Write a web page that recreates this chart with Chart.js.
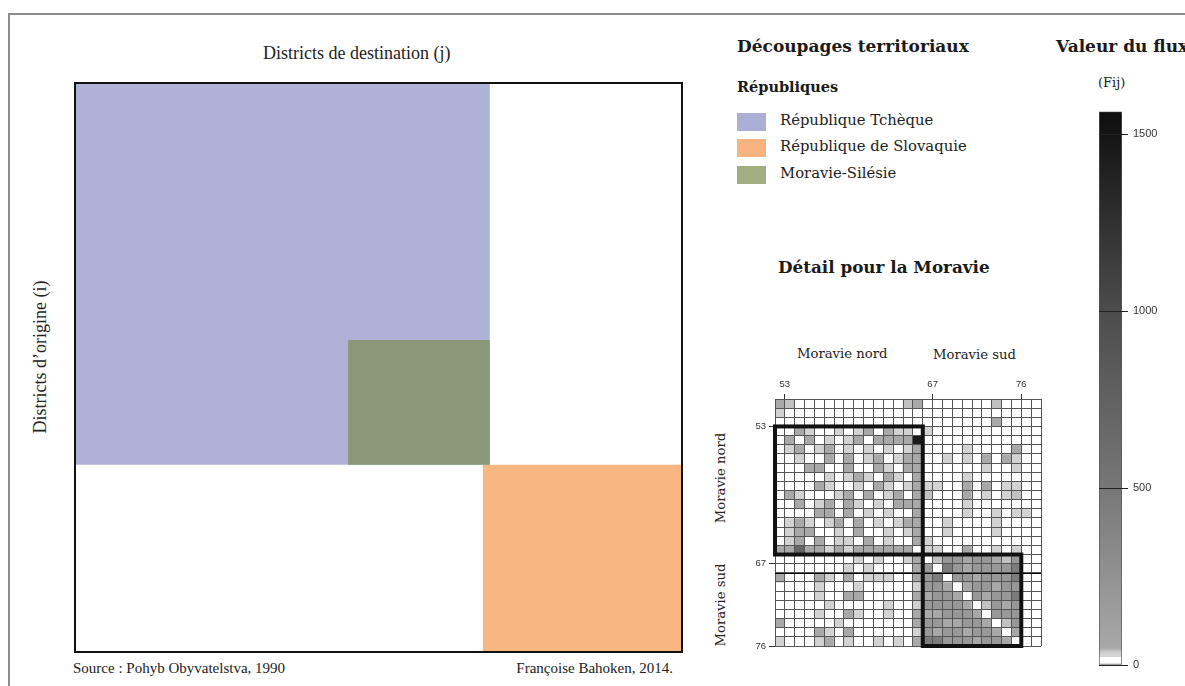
<!DOCTYPE html>
<html lang="fr">
<head>
<meta charset="utf-8">
<title>Matrice des flux - Tchécoslovaquie 1990</title>
<script src="https://cdn.jsdelivr.net/npm/chart.js@4.4.0/dist/chart.umd.min.js"></script>
<style>
  html, body { margin: 0; padding: 0; background: #fff; }
  #page { position: relative; width: 1185px; height: 686px; overflow: hidden; background: #fff; }
  #frame { position: absolute; left: 8px; top: 13px; width: 1300px; height: 800px;
           border-left: 2px solid #8c8c8c; border-top: 2px solid #8c8c8c; }
  .txt { position: absolute; white-space: nowrap; line-height: 1; color: #222; }
  .times { font-family: "Liberation Serif", serif; }
  .dv { font-family: "DejaVu Serif", serif; }
  .b { font-weight: bold; color: #1a1a1a; }
  .rot { transform: translate(-50%, -50%) rotate(-90deg); }
  .box { position: absolute; }
  .swatch { position: absolute; width: 29px; height: 18px; }
</style>
</head>
<body>
<div id="page">
  <div id="frame"></div>

  <div class="txt times" style="left:263px;top:44px;font-size:18px;">Districts de destination (j)</div>
  <div class="txt times rot" style="left:40px;top:357px;font-size:18px;">Districts d’origine (i)</div>
  <div class="box" style="left:74px;top:82px;width:609px;height:571px;">
    <canvas id="chart-main" width="609" height="571"></canvas>
  </div>
  <div class="txt times" style="left:73px;top:661px;font-size:15px;">Source : Pohyb Obyvatelstva, 1990</div>
  <div class="txt times" style="right:512px;top:661px;font-size:15px;">Françoise Bahoken, 2014.</div>

  <div class="txt dv b" style="left:737px;top:38px;font-size:17px;">Découpages territoriaux</div>
  <div class="txt dv b" style="left:737px;top:80px;font-size:14.5px;">Républiques</div>
  <div class="swatch" style="left:737px;top:113px;background:#abaed6;"></div>
  <div class="swatch" style="left:737px;top:139px;background:#f8b382;"></div>
  <div class="swatch" style="left:737px;top:166px;background:#a2ad80;"></div>
  <div class="txt dv" style="left:780px;top:113px;font-size:14.8px;">République Tchèque</div>
  <div class="txt dv" style="left:780px;top:139px;font-size:14.8px;">République de Slovaquie</div>
  <div class="txt dv" style="left:780px;top:166px;font-size:14.8px;">Moravie-Silésie</div>

  <div class="txt dv b" style="left:778px;top:259px;font-size:16.8px;">Détail pour la Moravie</div>
  <div class="txt dv" style="left:797px;top:347px;font-size:13.2px;">Moravie nord</div>
  <div class="txt dv" style="left:933px;top:348px;font-size:13.2px;">Moravie sud</div>
  <div class="txt dv rot" style="left:721px;top:478px;font-size:13.2px;">Moravie nord</div>
  <div class="txt dv rot" style="left:721px;top:605px;font-size:13.2px;">Moravie sud</div>
  <div class="box" style="left:745px;top:370px;width:305px;height:285px;">
    <canvas id="chart-detail" width="305" height="285"></canvas>
  </div>

  <div class="txt dv b" style="left:1056px;top:38px;font-size:17px;">Valeur du flux</div>
  <div class="txt dv" style="left:1098px;top:76px;font-size:13px;">(Fij)</div>
  <div class="box" style="left:1080px;top:100px;width:90px;height:580px;">
    <canvas id="chart-scale" width="90" height="580"></canvas>
  </div>
</div>

<script>
// Matrice générale : 114 districts (ordre i / j)
const districtCount = 114
const regionNames = ['République Tchèque', 'République de Slovaquie', 'Moravie-Silésie']
const regionColStart = [0, 76.6, 51.3]
const regionColEnd = [77.9, 114, 77.9]
const regionRowStart = [0, 76.5, 51.5]
const regionRowEnd = [76.5, 114, 76.5]
const regionColours = ['#aeb2d7', '#f8b683', '#899879']

// Détail pour la Moravie : valeurs Fij (lignes = origine, colonnes = destination)
const flux = [
  [50,40,0,0,0,0,0,0,0,0,0,0,0,40,50,0,0,0,0,0,0,0,40,0,0,0,0],
  [30,0,0,0,0,0,0,0,0,0,0,0,0,0,0,0,0,0,0,0,0,0,0,0,0,0,0],
  [0,0,0,0,0,0,0,0,0,0,0,0,0,0,0,0,0,0,0,0,0,0,50,0,0,0,0],
  [0,0,50,30,0,0,30,0,30,50,0,50,30,30,0,30,0,0,0,0,0,0,0,0,0,0,0],
  [0,50,0,50,0,30,0,30,50,0,50,50,50,50,1450,0,0,0,0,0,0,0,0,0,0,0,0],
  [0,30,50,0,30,50,0,30,0,30,0,30,0,30,50,0,0,0,0,30,0,0,0,0,50,0,0],
  [0,0,30,0,0,50,0,50,0,30,50,0,30,50,50,0,0,30,0,30,0,50,0,50,30,0,0],
  [0,0,0,50,50,0,0,50,0,0,50,30,0,50,50,0,0,0,0,0,0,30,0,0,30,0,0],
  [0,0,0,0,0,30,0,30,50,30,0,50,30,0,50,0,0,0,0,30,0,0,0,0,0,0,0],
  [0,0,0,0,50,30,0,0,30,0,50,30,0,30,50,30,30,0,0,50,0,50,0,30,30,0,0],
  [0,50,30,0,0,0,30,50,0,50,0,30,50,0,50,40,0,0,0,50,0,30,0,30,40,0,0],
  [0,0,50,0,30,50,0,50,30,0,30,0,50,50,50,0,0,0,0,30,0,0,0,0,0,0,0],
  [0,0,0,0,50,50,0,50,0,30,0,30,0,0,50,0,0,0,0,30,0,0,30,0,30,30,0],
  [0,30,50,30,0,30,50,0,50,0,30,0,30,50,50,0,0,30,0,0,0,0,30,0,0,0,0],
  [0,30,50,50,0,0,30,0,50,0,0,30,0,30,50,0,0,30,0,0,0,0,30,0,0,0,0],
  [0,30,50,0,50,0,30,30,0,50,0,30,0,0,50,30,0,0,0,0,0,0,0,0,0,0,0],
  [50,50,700,50,50,30,50,30,50,50,50,50,50,50,0,30,30,0,0,50,0,0,30,0,30,0,0],
  [0,0,0,0,0,0,0,0,30,0,30,0,0,30,50,0,40,200,200,50,200,200,50,40,200,0,0],
  [0,0,0,0,0,0,0,30,0,30,0,0,0,0,50,200,0,450,200,50,200,200,200,200,450,0,0],
  [50,0,0,0,50,30,0,50,0,30,30,30,0,0,50,200,450,0,200,200,50,200,200,200,450,0,0],
  [0,0,0,0,30,0,0,0,30,0,0,0,0,0,30,200,200,50,0,50,200,200,50,200,200,0,0],
  [0,0,0,0,30,0,0,50,50,0,0,0,0,0,50,50,200,200,50,0,200,50,200,200,450,0,0],
  [0,0,0,0,0,30,0,0,0,0,0,30,0,0,30,200,200,200,200,50,0,40,200,50,200,0,0],
  [0,0,0,0,30,0,0,50,30,0,0,30,0,0,50,50,50,200,200,200,50,0,200,200,200,0,0],
  [50,0,0,0,0,0,30,0,0,0,0,0,0,0,50,200,200,50,50,200,200,50,0,40,200,0,0],
  [0,0,0,0,50,30,0,50,0,0,0,0,0,0,30,200,50,200,200,50,200,200,50,0,50,0,0],
  [30,0,0,0,30,50,0,30,0,0,30,0,30,0,50,450,450,200,200,200,50,200,200,50,0,0,0]
]
const nRows = flux.length
const nCols = flux[0].length

// Repères des districts sur les axes
const colTickAt = [1, 16, 25]
const colTickLabels = ['53', '67', '76']
const rowTickAt = [3, 18, 27]
const rowTickLabels = ['53', '67', '76']

// Blocs Moravie nord / Moravie sud
const blockColStart = [0, 15]
const blockColEnd = [15, 25]
const blockRowStart = [3, 17]
const blockRowEnd = [17, 27]

// Echelle des valeurs
const scaleMax = 1564
const scaleTicks = [0, 500, 1000, 1500]
const colourStops = [0, 22, 24, 36, 48, 500, 1000, 1564]
const greyStops = [255, 255, 214, 206, 168, 119, 76, 14]

Chart.defaults.animation = false
Chart.defaults.font.family = 'Liberation Sans'

function grey(g) {
  const v = Math.round(g)
  return `rgb(${v},${v},${v})`
}

// Couleur d'une cellule selon Fij
function fluxColour(v) {
  if (v <= colourStops[0]) return grey(greyStops[0])
  for (let k = 1; k < colourStops.length; k++) {
    if (v <= colourStops[k]) {
      const t = (v - colourStops[k - 1]) / (colourStops[k] - colourStops[k - 1])
      return grey(greyStops[k - 1] + t * (greyStops[k] - greyStops[k - 1]))
    }
  }
  return grey(greyStops[greyStops.length - 1])
}

// Cadre noir de la matrice générale
const framePlugin = {
  id: 'frame',
  afterDraw(chart) {
    const { ctx, chartArea: a } = chart
    ctx.save()
    ctx.strokeStyle = '#111'
    ctx.lineWidth = 2
    ctx.strokeRect(a.left, a.top, a.right - a.left, a.bottom - a.top)
    ctx.restore()
  }
}

// Contours épais des blocs du détail
const blockPlugin = {
  id: 'blocks',
  afterDraw(chart) {
    const { ctx } = chart
    const xs = chart.scales.x
    const ys = chart.scales.y
    ctx.save()
    ctx.strokeStyle = '#000'
    ctx.lineWidth = 1
    const yl = Math.round(ys.getPixelForValue(19)) + 0.5
    ctx.beginPath()
    ctx.moveTo(xs.getPixelForValue(0), yl)
    ctx.lineTo(xs.getPixelForValue(nCols), yl)
    ctx.stroke()
    ctx.strokeStyle = '#111'
    ctx.lineWidth = 4
    blockColStart.forEach((c0, k) => {
      const x0 = xs.getPixelForValue(c0)
      const x1 = xs.getPixelForValue(blockColEnd[k])
      const y0 = ys.getPixelForValue(blockRowStart[k])
      const y1 = ys.getPixelForValue(blockRowEnd[k])
      ctx.strokeRect(x0, y0, x1 - x0, y1 - y0)
    })
    ctx.restore()
  }
}

function initializeMainChart() {
  const datasets = regionNames.map((name, k) => ({
    label: name,
    data: [
      { x: regionColStart[k], y: regionRowStart[k] },
      { x: regionColEnd[k], y: regionRowStart[k] },
      { x: regionColEnd[k], y: regionRowEnd[k] },
      { x: regionColStart[k], y: regionRowEnd[k] },
      { x: regionColStart[k], y: regionRowStart[k] }
    ],
    fill: 'shape',
    backgroundColor: regionColours[k],
    borderColor: 'transparent',
    borderWidth: 0,
    pointRadius: 0,
    tension: 0,
    order: k === 2 ? 0 : 1
  }))

  new Chart(document.getElementById('chart-main'), {
    type: 'line',
    data: { datasets: datasets },
    options: {
      responsive: false,
      layout: { padding: 1 },
      plugins: { legend: { display: false }, tooltip: { enabled: false } },
      scales: {
        x: { type: 'linear', min: 0, max: districtCount, display: false },
        y: { type: 'linear', min: 0, max: districtCount, reverse: true, display: false }
      }
    },
    plugins: [framePlugin]
  })
}

function initializeDetailChart() {
  const datasets = flux.map((row, i) => ({
    label: 'origine ' + i,
    data: row.map((v, j) => ({ x: j + 0.5, y: [i, i + 1] })),
    backgroundColor: row.map(fluxColour),
    borderWidth: 0,
    barPercentage: 1,
    categoryPercentage: 1,
    grouped: false
  }))

  const colEdges = Array.from({ length: nCols + 1 }, (_, k) => k)
  const rowEdges = Array.from({ length: nRows + 1 }, (_, k) => k)

  new Chart(document.getElementById('chart-detail'), {
    type: 'bar',
    data: { datasets: datasets },
    options: {
      responsive: false,
      layout: { padding: { top: 0, left: 0, right: 9, bottom: 9 } },
      plugins: { legend: { display: false }, tooltip: { enabled: false } },
      scales: {
        x: {
          type: 'linear', position: 'top', min: 0, max: nCols, offset: false,
          afterBuildTicks: axis => { axis.ticks = colEdges.map(v => ({ value: v })) },
          afterFit: scale => { scale.height = 29 },
          border: { display: false },
          grid: {
            offset: false, color: '#555', lineWidth: 1, z: 1, tickLength: 5,
            tickColor: ctx => (ctx.tick && colTickAt.includes(ctx.tick.value)) ? '#333' : 'transparent'
          },
          ticks: {
            autoSkip: false, maxRotation: 0, padding: 4, color: '#333',
            font: { size: 9.5 },
            callback: v => { const k = colTickAt.indexOf(v); return k < 0 ? '' : colTickLabels[k] }
          }
        },
        y: {
          type: 'linear', min: 0, max: nRows, reverse: true, offset: false,
          afterBuildTicks: axis => { axis.ticks = rowEdges.map(v => ({ value: v })) },
          afterFit: scale => { scale.width = 30 },
          border: { display: false },
          grid: {
            offset: false, color: '#555', lineWidth: 1, z: 1, tickLength: 6,
            tickColor: ctx => (ctx.tick && rowTickAt.includes(ctx.tick.value)) ? '#333' : 'transparent'
          },
          ticks: {
            autoSkip: false, padding: 3, color: '#333',
            font: { size: 9.5 },
            callback: v => { const k = rowTickAt.indexOf(v); return k < 0 ? '' : rowTickLabels[k] }
          }
        }
      }
    },
    plugins: [blockPlugin]
  })
}

function initializeScaleChart() {
  new Chart(document.getElementById('chart-scale'), {
    type: 'bar',
    data: {
      labels: ['Fij'],
      datasets: [{
        data: [scaleMax],
        backgroundColor: ctx => {
          const chart = ctx.chart
          const ys = chart.scales.y
          if (!chart.chartArea || !ys) return '#888'
          const g = chart.ctx.createLinearGradient(0, ys.getPixelForValue(0), 0, ys.getPixelForValue(scaleMax))
          colourStops.forEach((v, k) => g.addColorStop(Math.min(1, v / scaleMax), grey(greyStops[k])))
          return g
        },
        borderColor: '#555',
        borderWidth: 1,
        borderSkipped: false,
        barPercentage: 1,
        categoryPercentage: 1
      }]
    },
    options: {
      responsive: false,
      layout: { padding: { left: 19, top: 7, bottom: 15, right: 0 } },
      plugins: { legend: { display: false }, tooltip: { enabled: false } },
      scales: {
        x: { display: false },
        y: {
          position: 'right', min: 0, max: scaleMax,
          afterBuildTicks: axis => { axis.ticks = scaleTicks.map(v => ({ value: v })) },
          afterFit: scale => { scale.width = 48 },
          border: { display: false },
          grid: { color: '#222', lineWidth: 1, z: 1, tickLength: 6, tickColor: '#222' },
          ticks: { color: '#333', padding: 5, font: { size: 11 }, callback: v => String(v) }
        }
      }
    }
  })
}

window.addEventListener('load', () => {
  initializeMainChart()
  initializeDetailChart()
  initializeScaleChart()
})
</script>
</body>
</html>
